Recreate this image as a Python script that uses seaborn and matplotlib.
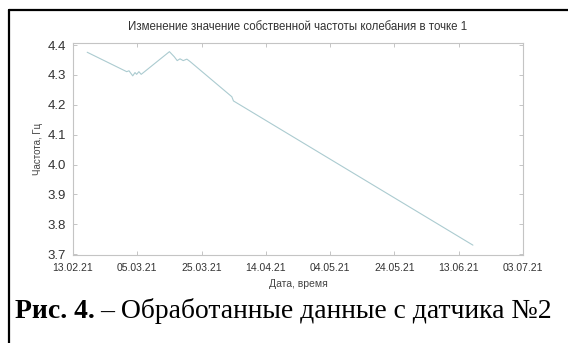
import matplotlib
matplotlib.use("Agg")
import matplotlib.pyplot as plt
import matplotlib.dates as mdates
from matplotlib.lines import Line2D
import numpy as np
import pandas as pd
import seaborn as sns

# Natural frequency readings, point 1
timestamps = [
    "2021-02-17 10:00", "2021-03-01 17:00", "2021-03-02 10:00", "2021-03-03 14:00",
    "2021-03-04 07:00", "2021-03-04 19:00", "2021-03-05 12:00", "2021-03-06 05:00",
    "2021-03-06 22:00", "2021-03-15 00:00", "2021-03-16 12:00", "2021-03-17 10:00",
    "2021-03-18 07:00", "2021-03-19 07:00", "2021-03-20 10:00", "2021-03-21 10:00",
    "2021-04-03 10:00", "2021-04-03 22:00", "2021-06-17 10:00",
]
frequency = [
    4.376, 4.311, 4.314, 4.297,
    4.308, 4.302, 4.311, 4.302,
    4.308, 4.378, 4.361, 4.348,
    4.354, 4.348, 4.353, 4.345,
    4.227, 4.213, 3.730,
]

y_ticks = [3.7, 3.8, 3.9, 4.0, 4.1, 4.2, 4.3, 4.4]
x_ticks = ["2021-02-13", "2021-03-05", "2021-03-25", "2021-04-14",
           "2021-05-04", "2021-05-24", "2021-06-13", "2021-07-03"]

title = "Изменение значение собственной частоты колебания в точке 1"
x_label = "Дата, время"
y_label = "Частота, Гц"

df = pd.DataFrame({"t": pd.to_datetime(timestamps), "f": frequency})

sns.set_theme(style="white")
plt.rcParams["font.family"] = ["Liberation Sans", "DejaVu Sans"]

W, H = 568, 343
fig = plt.figure(figsize=(W / 100, H / 100), dpi=100)
ax = fig.add_axes([73 / W, 1 - 255 / H, 450 / W, 212 / H])

sns.lineplot(data=df, x="t", y="f", ax=ax, color="#abcbd0", linewidth=0.8)

ax.set_xlim(pd.Timestamp(x_ticks[0]), pd.Timestamp(x_ticks[-1]))
ax.set_ylim(3.697, 4.407)
ax.set_xticks(pd.to_datetime(x_ticks))
ax.xaxis.set_major_formatter(mdates.DateFormatter("%d.%m.%y"))
ax.set_yticks(y_ticks)
ax.set_yticklabels([f"{v:.1f}" for v in y_ticks])

ax.tick_params(axis="x", labelsize=7.5, colors="#bbbbbb", labelcolor="#333333",
               direction="in", length=3, width=0.6, top=True, bottom=True, pad=6)
ax.tick_params(axis="y", labelsize=9.5, colors="#bbbbbb", labelcolor="#333333",
               direction="in", length=3, width=0.6, left=True, right=True, pad=5)
for s in ax.spines.values():
    s.set_color("#c4c4c4")
    s.set_linewidth(0.8)

ax.set_title(title, fontsize=8.3, color="#333333", pad=9)
ax.set_xlabel(x_label, fontsize=7.5, color="#444444", labelpad=4)
ax.set_ylabel(y_label, fontsize=7, color="#444444", labelpad=3)

# Page frame lines around the figure
fig.add_artist(Line2D([9 / W, 9 / W], [0, 1 - 10 / H], color="black", linewidth=1.6,
                      transform=fig.transFigure))
fig.add_artist(Line2D([9 / W, 1], [1 - 10 / H, 1 - 10 / H], color="black", linewidth=1.6,
                      transform=fig.transFigure))

# Figure caption
serif = ["Liberation Serif", "DejaVu Serif"]
cap_y = 1 - 311 / H
cap_size = 19.9
t1 = fig.text(15 / W, cap_y, "Рис. 4.", fontsize=cap_size, fontweight="bold",
              family=serif, va="center", ha="left", color="black")
fig.canvas.draw()
bb = t1.get_window_extent()
fig.text(bb.x1 / W + 5 / W, cap_y, "– Обработанные данные с датчика №2", fontsize=cap_size,
         family=serif, va="center", ha="left", color="black")

fig.savefig("out.png", dpi=100)
